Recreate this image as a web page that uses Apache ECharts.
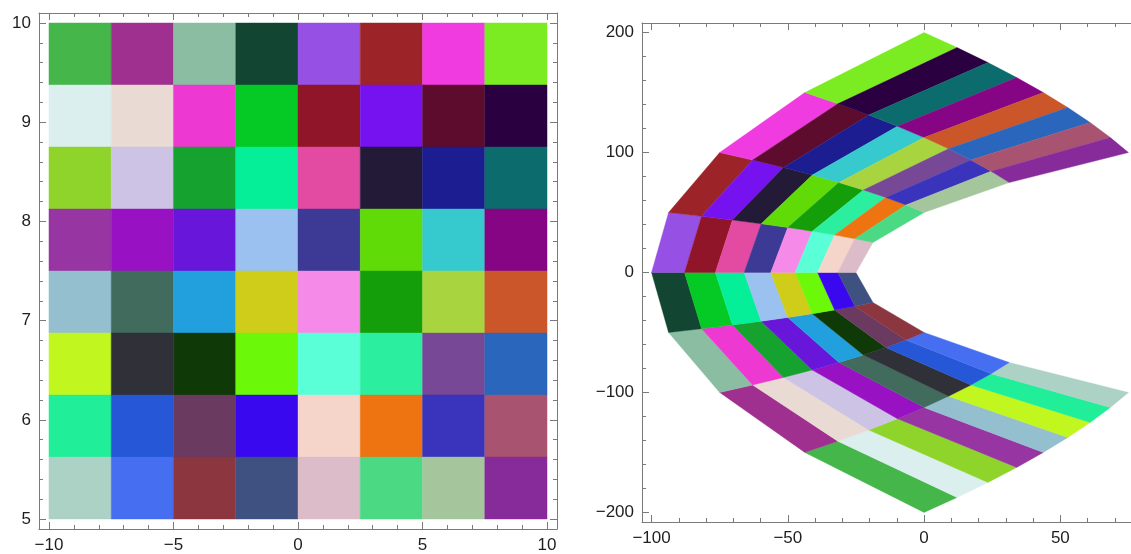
<!DOCTYPE html>
<html>
<head>
<meta charset="utf-8">
<script src="https://cdn.jsdelivr.net/npm/echarts@6/dist/echarts.min.js"></script>
<style>
html,body{margin:0;padding:0;background:#fff;}
#chart{width:1131px;height:554px;}
</style>
</head>
<body>
<div id="chart"></div>
<script>
// Grid edges of the left panel (x and y cell boundaries)
var xEdges = [-10, -7.5, -5, -2.5, 0, 2.5, 5, 7.5, 10];
var yEdges = [5, 5.625, 6.25, 6.875, 7.5, 8.125, 8.75, 9.375, 10];

// Cell colours, row by row from top (y 9.375–10) to bottom (y 5–5.625), columns left to right
var row1 = ['#45b649', '#a0308f', '#8abda2', '#124632', '#9650e4', '#9c2428', '#ef3be0', '#7cec22'];
var row2 = ['#daefee', '#e9dad4', '#ee38d2', '#05c925', '#911528', '#7512ef', '#5e0c2e', '#2b0040'];
var row3 = ['#8fd42b', '#cdc3e4', '#15a22f', '#04ef97', '#e34aa1', '#231a38', '#1b1d91', '#0c6b6c'];
var row4 = ['#9735a2', '#9812c4', '#6816d9', '#9bc1f1', '#3c3a94', '#60db07', '#36c9cd', '#850584'];
var row5 = ['#93bfcf', '#416b5c', '#22a0de', '#d0cc1a', '#f68ae8', '#139e0a', '#a8d440', '#cb5629'];
var row6 = ['#c1f61f', '#303038', '#0f3a08', '#6bf809', '#5affd8', '#2bef9e', '#764896', '#2a66bc'];
var row7 = ['#20ee98', '#2557d6', '#6b3a60', '#3a08ee', '#f5d5ca', '#ee7311', '#3934bb', '#a8536f'];
var row8 = ['#acd2c6', '#466ef0', '#8c3640', '#3f5180', '#dcbcc8', '#4bd984', '#a5c59c', '#872b9b'];
var rows = [row1, row2, row3, row4, row5, row6, row7, row8];

// Tick values
var leftXMajor = [-10, -5, 0, 5, 10];
var leftXMinor = [-9, -8, -7, -6, -4, -3, -2, -1, 1, 2, 3, 4, 6, 7, 8, 9];
var leftYMajor = [5, 6, 7, 8, 9, 10];
var leftYMinor = [5.2, 5.4, 5.6, 5.8, 6.2, 6.4, 6.6, 6.8, 7.2, 7.4, 7.6, 7.8, 8.2, 8.4, 8.6, 8.8, 9.2, 9.4, 9.6, 9.8];
var rightXMajor = [-100, -50, 0, 50];
var rightXMinor = [-90, -80, -70, -60, -40, -30, -20, -10, 10, 20, 30, 40, 60, 70];
var rightYMajor = [-200, -100, 0, 100, 200];
var rightYMinor = [-180, -160, -140, -120, -80, -60, -40, -20, 20, 40, 60, 80, 120, 140, 160, 180];

// Map used by the right panel: w = z^2, z = x + i y
function mapZ2(x, y) { return [x * x - y * y, 2 * x * y]; }

var cells = [];
for (var r = 0; r < 8; r++) {
  for (var c = 0; c < 8; c++) {
    var yb = yEdges[7 - r], yt = yEdges[8 - r];
    cells.push([(xEdges[c] + xEdges[c + 1]) / 2, (yb + yt) / 2, c, r]);
  }
}

var frameColor = '#7a7a7a';
var labelStyle = { color: '#1e1e1e', fontSize: 17, fontFamily: 'Liberation Sans, Arial, sans-serif' };
function fmt(v) { return String(v).replace('-', '\u2212'); }

function axisSet(gridIndex, min, max, position, major, minor, showLabels, showLine) {
  var base = {
    type: 'value', gridIndex: gridIndex, min: min, max: max, position: position,
    splitLine: { show: false }, minorTick: { show: false }
  };
  var main = Object.assign({}, base, {
    axisLine: { show: showLine !== false, onZero: false, lineStyle: { color: frameColor, width: 1 } },
    axisTick: { show: showLine !== false, inside: true, length: 7, customValues: major, lineStyle: { color: frameColor, width: 1 } },
    axisLabel: showLabels ? Object.assign({ show: true, customValues: major, formatter: fmt, margin: 8 }, labelStyle) : { show: false }
  });
  var sub = Object.assign({}, base, {
    axisLine: { show: false, onZero: false },
    axisTick: { show: showLine !== false, inside: true, length: 4, customValues: minor, lineStyle: { color: frameColor, width: 1 } },
    axisLabel: { show: false }
  });
  return [main, sub];
}

// right panel: frame extends past the window edge, so the visible range ends at ~75.9
var rightXMin = -103.5, rightXMaxVisible = 75.93;

// x axes: 0-1 left bottom, 2-3 left top, 4-5 right bottom, 6-7 right top
var xAxes = [].concat(
  axisSet(0, -10.4, 10.4, 'bottom', leftXMajor, leftXMinor, true),
  axisSet(0, -10.4, 10.4, 'top', leftXMajor, leftXMinor, false),
  axisSet(1, rightXMin, rightXMaxVisible, 'bottom', rightXMajor, rightXMinor, true),
  axisSet(1, rightXMin, rightXMaxVisible, 'top', rightXMajor, rightXMinor, false)
);
// y axes: 0-1 left left, 2-3 left right, 4-5 right left, 6-7 right right (hidden: outside window)
var yAxes = [].concat(
  axisSet(0, 4.9, 10.1, 'left', leftYMajor, leftYMinor, true),
  axisSet(0, 4.9, 10.1, 'right', leftYMajor, leftYMinor, false),
  axisSet(1, -208, 208, 'left', rightYMajor, rightYMinor, true),
  axisSet(1, -208, 208, 'right', rightYMajor, rightYMinor, false, false)
);

var chart = echarts.init(document.getElementById('chart'), null, { renderer: 'canvas' });
chart.setOption({
  backgroundColor: '#ffffff',
  animation: false,
  grid: [
    { left: 39, top: 13, width: 518, height: 519 },
    { left: 642, top: 23, right: 0, height: 499 }
  ],
  xAxis: xAxes,
  yAxis: yAxes,
  series: [
    {
      type: 'custom', xAxisIndex: 0, yAxisIndex: 0,
      encode: { x: 0, y: 1 },
      data: cells,
      renderItem: function (params, api) {
        var c = api.value(2), r = api.value(3);
        var x0 = xEdges[c], x1 = xEdges[c + 1];
        var yb = yEdges[7 - r], yt = yEdges[8 - r];
        var pts = [api.coord([x0, yb]), api.coord([x1, yb]), api.coord([x1, yt]), api.coord([x0, yt])];
        var col = rows[r][c];
        return { type: 'polygon', shape: { points: pts }, style: { fill: col, stroke: col, lineWidth: 0.4 } };
      }
    },
    {
      type: 'custom', xAxisIndex: 4, yAxisIndex: 4,
      data: cells.map(function (d) { var m = mapZ2(d[0], d[1]); return [m[0], m[1], d[2], d[3]]; }),
      encode: { x: 0, y: 1 },
      renderItem: function (params, api) {
        var c = api.value(2), r = api.value(3);
        var x0 = xEdges[c], x1 = xEdges[c + 1];
        var yb = yEdges[7 - r], yt = yEdges[8 - r];
        var corners = [[x0, yb], [x1, yb], [x1, yt], [x0, yt]];
        var pts = corners.map(function (p) { return api.coord(mapZ2(p[0], p[1])); });
        var col = rows[r][c];
        return { type: 'polygon', shape: { points: pts }, style: { fill: col, stroke: col, lineWidth: 0.4 } };
      }
    }
  ]
});
</script>
</body>
</html>
